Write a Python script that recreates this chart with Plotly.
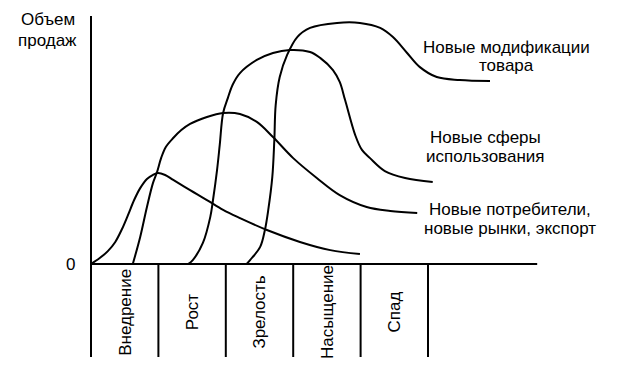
import plotly.graph_objects as go

# Stage names (x-axis categories, one unit per stage)
stages = ["Внедрение", "Рост", "Зрелость", "Насыщение", "Спад"]

# Curve 1 – new consumers / markets / export
c1_x = [0.0, 0.13, 0.25, 0.36, 0.46, 0.55, 0.64, 0.73, 0.83, 0.92, 0.99, 1.10, 1.22, 1.47, 1.72, 1.96, 2.21, 2.61, 3.10, 3.55, 3.99]
c1_y = [0.0, 2.4, 5.2, 8.9, 14.1, 19.8, 25.8, 30.6, 34.3, 35.9, 36.7, 35.9, 33.9, 29.8, 25.8, 21.8, 18.5, 13.7, 8.9, 5.6, 4.0]

# Curve 2 – new application areas
c2_x = [0.62, 0.73, 0.83, 0.92, 0.98, 1.04, 1.11, 1.22, 1.34, 1.47, 1.72, 1.96, 2.21, 2.46, 2.70, 3.00, 3.35, 3.69, 4.09, 4.44, 4.84]
c2_y = [0.0, 10.9, 23.0, 32.7, 37.1, 42.7, 47.2, 50.8, 54.0, 56.5, 59.3, 60.9, 60.5, 57.3, 51.2, 42.7, 34.7, 27.8, 23.0, 21.4, 20.6]

# Curve 3 – product modifications
c3_x = [1.44, 1.51, 1.66, 1.77, 1.81, 1.87, 1.91, 1.96, 2.03, 2.10, 2.21, 2.46, 2.70, 2.95, 3.25, 3.40, 3.59, 3.69, 3.77, 3.92, 4.02, 4.14, 4.36, 4.66, 5.07]
c3_y = [0.0, 1.6, 8.5, 19.0, 25.8, 37.9, 48.0, 60.9, 66.9, 72.2, 77.0, 82.3, 85.1, 86.3, 85.5, 83.1, 78.2, 73.4, 66.1, 52.0, 46.0, 42.7, 37.5, 34.7, 33.1]

# Curve 4
c4_x = [2.31, 2.36, 2.51, 2.58, 2.63, 2.69, 2.72, 2.74, 2.80, 2.91, 3.06, 3.25, 3.65, 3.99, 4.29, 4.48, 4.69, 4.88, 5.13, 5.47, 5.92]
c4_y = [0.0, 1.6, 6.9, 13.7, 21.8, 35.1, 50.0, 64.1, 75.4, 84.3, 91.5, 95.2, 97.2, 97.2, 95.2, 91.5, 85.1, 79.4, 75.4, 74.2, 73.8]

curve_labels = ["Новые потребители,<br>новые рынки, экспорт",
                "Новые сферы<br>использования",
                "Новые модификации<br>товара"]
y_title = "Объем<br>продаж"

FONT = "Liberation Sans, Arial, sans-serif"
BLACK = "black"

fig = go.Figure()
for xs, ys in [(c1_x, c1_y), (c2_x, c2_y), (c3_x, c3_y), (c4_x, c4_y)]:
    fig.add_trace(go.Scatter(x=xs, y=ys, mode="lines",
                             line=dict(color=BLACK, width=2, shape="spline", smoothing=1.0),
                             hoverinfo="skip", showlegend=False))

shapes = []
shapes.append(dict(type="line", x0=0, x1=0, y0=-37.5, y1=100, line=dict(color=BLACK, width=2)))
shapes.append(dict(type="line", x0=0, x1=6.62, y0=0, y1=0, line=dict(color=BLACK, width=2)))
for i in range(1, len(stages) + 1):
    shapes.append(dict(type="line", x0=i, x1=i, y0=0, y1=-37.5, line=dict(color=BLACK, width=2)))

annotations = []
def add_lines(text, x, ys, size):
    for line, yy in zip(text.split("<br>"), ys):
        annotations.append(dict(x=x, y=yy, text=line, showarrow=False, xanchor="center",
                                yanchor="middle", font=dict(size=size, color=BLACK, family=FONT)))

for i, s in enumerate(stages):
    annotations.append(dict(x=i + 0.5, y=-19.4, text=s, textangle=-90, showarrow=False,
                            font=dict(size=17, color=BLACK, family=FONT),
                            xanchor="center", yanchor="middle"))
add_lines(y_title, -0.64, [98.4, 90.3], 17)
annotations.append(dict(x=-0.31, y=0, text="0", showarrow=False,
                        font=dict(size=17, color=BLACK, family=FONT)))
label_x = [6.22, 5.86, 6.17]
label_ys = [[21.8, 14.5], [51.2, 43.5], [87.5, 80.2]]
for t, lx, lys in zip(curve_labels, label_x, label_ys):
    add_lines(t, lx, lys, 17)

fig.update_layout(
    width=632, height=377,
    margin=dict(l=0, r=0, t=0, b=0),
    paper_bgcolor="white", plot_bgcolor="white",
    xaxis=dict(range=[-1.2315, 8.1454], visible=False, fixedrange=True),
    yaxis=dict(range=[-48.79, 103.23], visible=False, fixedrange=True),
    shapes=shapes, annotations=annotations,
)

fig.write_html("out.html")
